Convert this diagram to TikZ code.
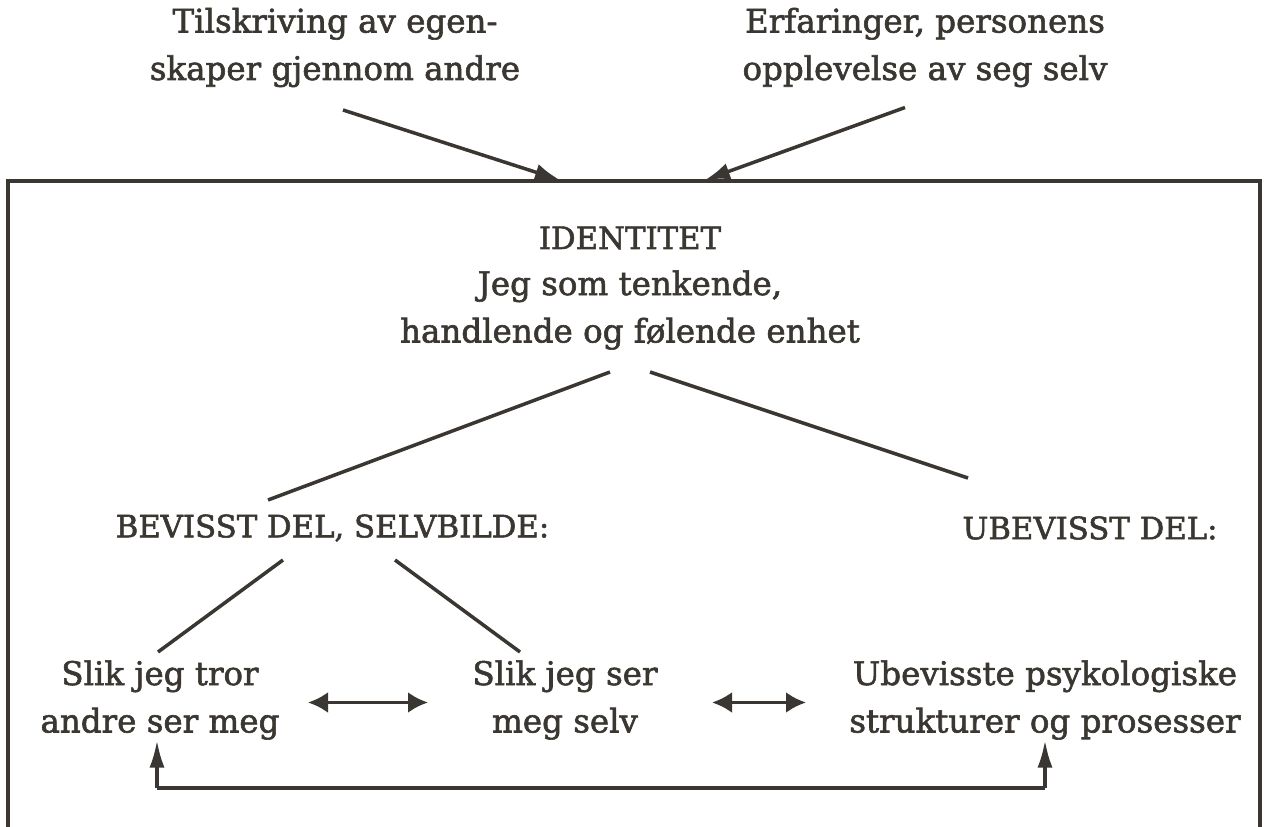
\documentclass[tikz,border=0pt]{standalone}
\usepackage{fontspec}
\setmainfont[FakeBold=1.8]{DejaVu Serif}
\usetikzlibrary{arrows.meta}
\definecolor{ink}{HTML}{3A3631}
\tikzset{
>={Latex[width=3.4mm,length=5mm]},
label/.style={align=center, text=ink, font=\fontsize{18.5}{27}\selectfont, inner sep=0pt},
caps/.style={label, font=\fontsize{17.5}{27}\selectfont},
link/.style={draw=ink, line width=2pt},
twoway/.style={link, {Latex[width=4.2mm,length=4mm]}-{Latex[width=4.2mm,length=4mm]}},
upward/.style={link, -{Latex[width=3mm,length=5.5mm]}},
}
\begin{document}
\begin{tikzpicture}

    \useasboundingbox (0,0) rectangle (25.3,-16.54);

    % frame, open at the bottom
    \draw[link] (0.16,-16.54) -- (0.16,-3.62) -- (25.2,-3.62) -- (25.2,-16.54);

    \node[label] (tilskr) at(6.7, -0.95)  {Tilskriving av egen-\\skaper gjennom andre};
    \node[label] (erfar) at(18.5, -0.95)  {Erfaringer, personens\\opplevelse av seg selv};

    \coordinate (t1) at(6.86, -2.2);
    \coordinate (h1) at(11.2, -3.6);
    \coordinate (t2) at(18.1, -2.15);
    \coordinate (h2) at(14.1, -3.6);

    \node[caps] (ident) at(12.6, -4.76)  {IDENTITET};
    \node[label] (jeg) at(12.6, -6.2)  {Jeg som tenkende,\\handlende og følende enhet};

    \node[caps] (bev) at(6.65, -10.56)  {BEVISST DEL, SELVBILDE:};
    \node[caps] (ubev) at(21.8, -10.56)  {UBEVISST DEL:};

    \node[label] (tror) at(3.2, -14.0)  {Slik jeg tror\\andre ser meg};
    \node[label] (ser) at(11.3, -14.0)  {Slik jeg ser\\meg selv};
    \node[label] (psyk) at(20.9, -14.0)  {Ubevisste psykologiske\\strukturer og prosesser};

    \coordinate (bl) at(3.14, -15.76);
    \coordinate (br) at(20.9, -15.76);

    \draw[link,->] (t1)  to (h1) ;
    \draw[link,->] (t2)  to (h2) ;

    \draw[link] (12.2, -7.44)  to (5.36, -10.0) ;
    \draw[link] (13.0, -7.44)  to (19.36, -9.56) ;

    \draw[link] (5.66, -11.2)  to (3.16, -13.04) ;
    \draw[link] (7.9, -11.2)  to (10.4, -13.04) ;

    \draw[twoway] (6.16, -14.05)  to (8.56, -14.05) ;
    \draw[twoway] (14.24, -14.05)  to (16.12, -14.05) ;

    \draw[upward] (bl)  to (3.14, -14.8) ;
    \draw[upward] (br)  to (20.9, -14.8) ;
    \draw[link] (bl)  to (br) ;

\end{tikzpicture}
\end{document}
